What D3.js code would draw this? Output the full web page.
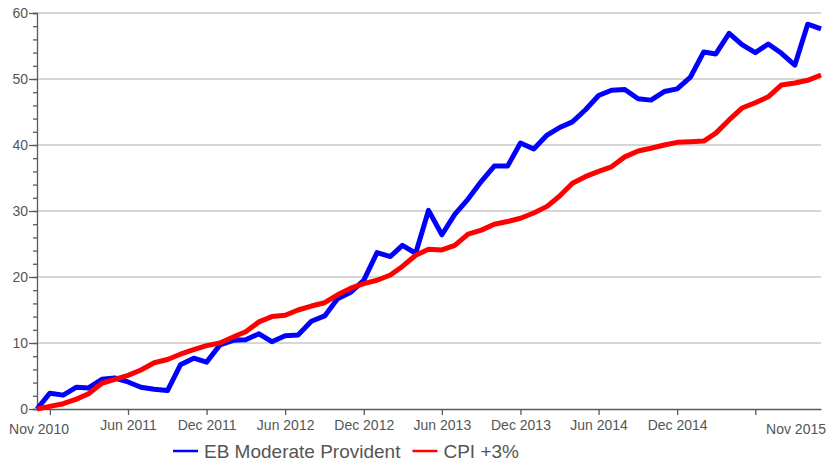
<!DOCTYPE html>
<html>
<head>
<meta charset="utf-8">
<script src="https://cdn.jsdelivr.net/npm/d3@7"></script>
<style>
  body { margin: 0; background: #fff; }
  svg { display: block; font-family: 'Liberation Sans', Arial, sans-serif; }
</style>
</head>
<body>
<div id="chart"></div>
<script>
// monthly series, Nov 2010 .. Nov 2015 (cumulative %)
var startMonth = '2010-11'
var ebModerate = [0, 2.4, 2.1, 3.3, 3.2, 4.5, 4.7, 4.1, 3.3, 3.0,
	2.8, 6.7, 7.7, 7.1, 9.7, 10.4, 10.5, 11.4, 10.2, 11.1,
	11.2, 13.3, 14.1, 16.7, 17.7, 19.5, 23.7, 23.1, 24.8, 23.6,
	30.1, 26.4, 29.5, 31.8, 34.5, 36.8, 36.8, 40.3, 39.4, 41.5,
	42.6, 43.5, 45.3, 47.5, 48.3, 48.4, 47.0, 46.8, 48.1, 48.5,
	50.3, 54.1, 53.8, 56.9, 55.2, 54.0, 55.3, 53.9, 52.1, 58.3,
	57.6]
var cpiPlus3 = [0, 0.4, 0.8, 1.5, 2.3, 3.9, 4.5, 5.1, 5.9, 7.0,
	7.5, 8.3, 9.0, 9.6, 10.0, 10.9, 11.7, 13.2, 14.0, 14.2,
	15.0, 15.6, 16.1, 17.3, 18.3, 19.0, 19.5, 20.3, 21.6, 23.3,
	24.2, 24.1, 24.8, 26.5, 27.1, 28.0, 28.4, 28.9, 29.7, 30.7,
	32.2, 34.2, 35.2, 36.0, 36.7, 38.2, 39.1, 39.5, 40.0, 40.4,
	40.5, 40.6, 41.8, 43.8, 45.6, 46.4, 47.3, 49.1, 49.4, 49.8,
	50.6]
var seriesNames = ['EB Moderate Provident', 'CPI +3%']
var seriesColors = ['#0000ff', '#ff0000']
var xTickMonths = ['2010-12', '2011-06', '2011-12', '2012-06', '2012-12', '2013-06',
	'2013-12', '2014-06', '2014-12', '2015-06']
var xTickLabels = ['', 'Jun 2011', 'Dec 2011', 'Jun 2012', 'Dec 2012', 'Jun 2013',
	'Dec 2013', 'Jun 2014', 'Dec 2014', '']
var yTicks = [0, 10, 20, 30, 40, 50, 60]

var width = 827
	, height = 462
	, margin = {top: 13, right: 6, bottom: 53, left: 37}
	, parseMonth = d3.timeParse('%Y-%m')
	, fmtMonth = d3.timeFormat('%b %Y')
	, axisColor = '#5a5a5a'
	, textColor = '#555'

var months = ebModerate.map(function(d, i) { return d3.timeMonth.offset(parseMonth(startMonth), i) })

var x = d3.scaleTime()
	.domain(d3.extent(months))
	.range([margin.left, width - margin.right])

var y = d3.scaleLinear()
	.domain([0, 60])
	.range([height - margin.bottom, margin.top])

var svg = d3.select('#chart').append('svg')
	.attr('width', width)
	.attr('height', height)

// gridlines
svg.append('g')
	.selectAll('line')
	.data(yTicks.slice(1))
	.join('line')
	  .attr('x1', margin.left)
	  .attr('x2', width - margin.right)
	  .attr('y1', function(d) { return y(d) })
	  .attr('y2', function(d) { return y(d) })
	  .attr('stroke', '#c8c8c8')
	  .attr('stroke-width', 1.5)

// y axis: minor ticks every 2, labels every 10
var yAxis = svg.append('g')
	.attr('transform', 'translate(' + margin.left + ',0)')

yAxis.append('g')
	.call(d3.axisLeft(y).tickValues(d3.range(0, 61, 2)).tickSize(4).tickFormat(''))

yAxis.append('g')
	.call(d3.axisLeft(y).tickValues(yTicks).tickSize(8).tickPadding(1))
	.call(function(g) { g.select('.domain').remove() })

yAxis.selectAll('path, line').attr('stroke', axisColor).attr('stroke-width', 1.3)
yAxis.selectAll('text')
	.attr('fill', textColor)
	.attr('font-size', 14)
	.attr('font-family', "'Liberation Sans', Arial, sans-serif")

// x axis
var xAxis = svg.append('g')
	.attr('transform', 'translate(0,' + y(0) + ')')
	.call(d3.axisBottom(x)
		.tickValues(xTickMonths.map(parseMonth))
		.tickSize(6)
		.tickSizeOuter(0)
		.tickPadding(5)
		.tickFormat(function(d, i) { return xTickLabels[i] }))

xAxis.selectAll('path, line').attr('stroke', axisColor).attr('stroke-width', 1.3)
xAxis.selectAll('text')
	.attr('fill', textColor)
	.attr('font-size', 14)
	.attr('font-family', "'Liberation Sans', Arial, sans-serif")

// end labels: first and last month
svg.append('g')
	.selectAll('text')
	.data([months[0], months[months.length - 1]])
	.join('text')
	  .attr('x', function(d, i) { return i === 0 ? x(d) + 2 : width - 1 })
	  .attr('y', y(0) + 25)
	  .attr('text-anchor', function(d, i) { return i === 0 ? 'middle' : 'end' })
	  .attr('fill', textColor)
	  .attr('font-size', 14)
	  .text(function(d) { return fmtMonth(d) })

// series lines
var line = d3.line()
	.x(function(d, i) { return x(months[i]) })
	.y(function(d) { return y(d) })

svg.append('g')
	.selectAll('path')
	.data([ebModerate, cpiPlus3])
	.join('path')
	  .attr('d', line)
	  .attr('fill', 'none')
	  .attr('stroke', function(d, i) { return seriesColors[i] })
	  .attr('stroke-width', 5)
	  .attr('stroke-linejoin', 'round')

// legend
var legend = svg.append('g')
	.attr('transform', 'translate(173,' + (height - 11) + ')')

var lx = 0
seriesNames.forEach(function(name, i) {
	legend.append('line')
		.attr('x1', lx).attr('x2', lx + 25)
		.attr('y1', 0).attr('y2', 0)
		.attr('stroke', seriesColors[i])
		.attr('stroke-width', 2.5)
	var t = legend.append('text')
		.attr('x', lx + 31)
		.attr('y', 6.5)
		.attr('fill', textColor)
		.attr('font-size', 19)
		.text(name)
	lx += 31 + t.node().getComputedTextLength() + 12
})
</script>
</body>
</html>
